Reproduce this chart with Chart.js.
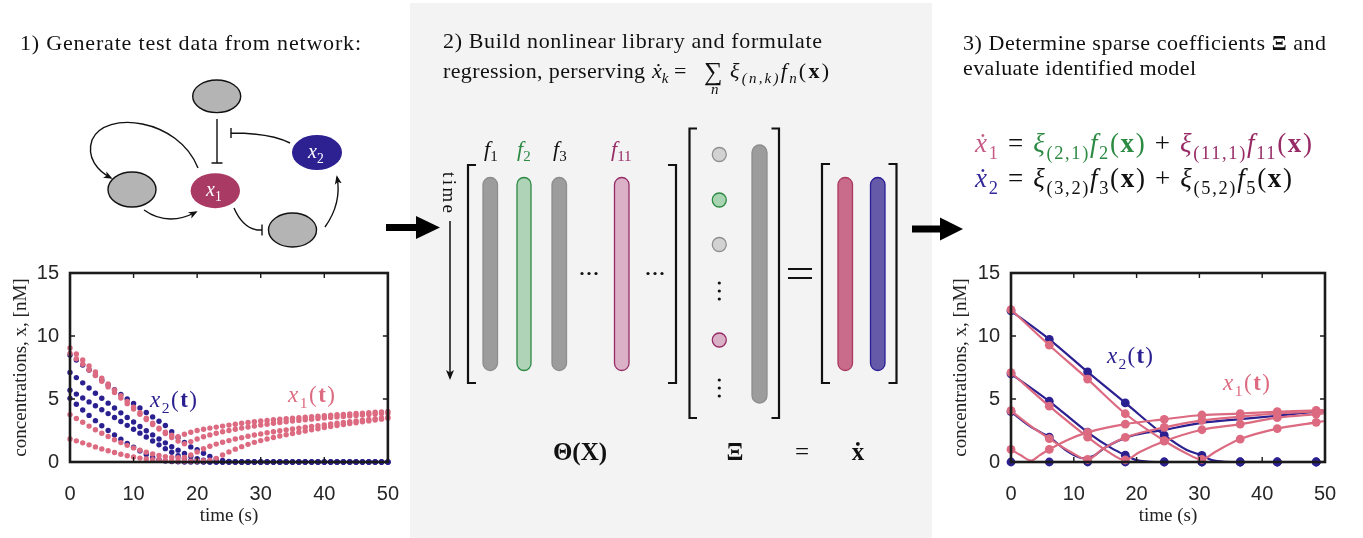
<!DOCTYPE html>
<html>
<head>
<meta charset="utf-8">
<script src="https://cdn.jsdelivr.net/npm/chart.js@4.4.0/dist/chart.umd.min.js"></script>
<style>
  body { margin: 0; width: 1363px; height: 538px; overflow: hidden; position: relative; background: #fff; }
  #panel { position: absolute; left: 410px; top: 3px; width: 522px; height: 535px; background: #f3f3f3; }
  .box { position: absolute; }
  #art { position: absolute; left: 0; top: 0; font-family: "Liberation Serif", "Times New Roman", serif; }
</style>
</head>
<body>
<div id="panel"></div>
<div class="box" style="left:0;top:250px;width:419px;height:288px"><canvas id="testData"></canvas></div>
<div class="box" style="left:940px;top:250px;width:423px;height:288px"><canvas id="modelData"></canvas></div>

<svg id="art" width="1363" height="538">
  <defs>
    <marker id="ah" viewBox="0 0 10 10" refX="8" refY="5" markerWidth="9" markerHeight="9" markerUnits="userSpaceOnUse" orient="auto">
      <path d="M0,1 L10,5 L0,9 L2.5,5 z" fill="#111"/>
    </marker>
    <marker id="ahTime" viewBox="0 0 10 10" refX="8" refY="5" markerWidth="10" markerHeight="10" markerUnits="userSpaceOnUse" orient="auto">
      <path d="M0,1 L10,5 L0,9 L2.5,5 z" fill="#111"/>
    </marker>
  </defs>

  <!-- network sketch -->
  <g stroke="#111" stroke-width="1.4" fill="none">
    <path d="M198,168 C178,118 105,110 92,140 C86,158 98,171 111,178" marker-end="url(#ah)"/>
    <path d="M144,210 Q168,227 196,212" marker-end="url(#ah)"/>
    <path d="M217,119 V163 M211.5,163 H222.5"/>
    <path d="M290,143 Q270,133 231,133 M231,128 V138"/>
    <path d="M234,208 Q244,231 262,230 M262,224.5 V235.5"/>
    <path d="M325,227 Q342,203 337,177" marker-end="url(#ah)"/>
  </g>
  <g stroke="#111" stroke-width="1.4" fill="#b4b4b4">
    <ellipse cx="216.7" cy="96.3" rx="24" ry="16.3"/>
    <ellipse cx="132" cy="189.5" rx="24" ry="17.5"/>
    <ellipse cx="292.5" cy="230" rx="24" ry="17"/>
  </g>
  <ellipse cx="215.3" cy="190.7" rx="24.7" ry="17.5" fill="#a93a63"/>
  <ellipse cx="317" cy="152.5" rx="25" ry="17.5" fill="#2d2192"/>

  <!-- arrows between panels -->
  <polygon points="386,224 416,224 416,216 440,227.5 416,239 416,231 386,231" fill="#000"/>
  <polygon points="912,225.5 940,225.5 940,217.5 963,229 940,240.5 940,232.5 912,232.5" fill="#000"/>

  <!-- library matrix -->
  <g stroke="#111" stroke-width="2.2" fill="none">
    <path d="M476,165 H468 V383 H476"/>
    <path d="M668,165 H676 V383 H668"/>
    <path d="M697,128.5 H689.5 V418 H697"/>
    <path d="M771.5,128.5 H779 V418 H771.5"/>
    <path d="M830,164 H822 V383 H830"/>
    <path d="M888.5,164 H896.5 V383 H888.5"/>
  </g>
  <g stroke-width="1.3">
    <rect x="483" y="177.5" width="14.5" height="193" rx="7.2" fill="#9c9c9c" stroke="#8d8d8d"/>
    <rect x="517" y="177.5" width="14" height="193" rx="7" fill="#aed3b6" stroke="#2c8a43"/>
    <rect x="552" y="177.5" width="14.5" height="193" rx="7.2" fill="#9c9c9c" stroke="#8d8d8d"/>
    <rect x="614.5" y="177.5" width="14.5" height="193" rx="7.2" fill="#dbb1c7" stroke="#962b66"/>
    <rect x="752" y="145" width="15" height="258" rx="7.5" fill="#9c9c9c" stroke="#8d8d8d"/>
    <rect x="838" y="177.5" width="14.5" height="193" rx="7.2" fill="#c96c8c" stroke="#ab3861"/>
    <rect x="870.5" y="177.5" width="14.5" height="193" rx="7.2" fill="#655aa8" stroke="#2a1e98"/>
  </g>
  <g stroke-width="1.3">
    <circle cx="719.3" cy="154.5" r="7" fill="#d2d2d2" stroke="#8f8f8f"/>
    <circle cx="719.3" cy="200" r="7" fill="#a9d4b1" stroke="#2c8a43"/>
    <circle cx="719.3" cy="244.5" r="7" fill="#d2d2d2" stroke="#8f8f8f"/>
    <circle cx="719.3" cy="340" r="7" fill="#dab0c6" stroke="#962b66"/>
  </g>
  <g fill="#111">
    <circle cx="582" cy="273.5" r="1.6"/><circle cx="589" cy="273.5" r="1.6"/><circle cx="596" cy="273.5" r="1.6"/>
    <circle cx="648" cy="273.5" r="1.6"/><circle cx="655" cy="273.5" r="1.6"/><circle cx="662" cy="273.5" r="1.6"/>
    <circle cx="719.3" cy="283" r="1.6"/><circle cx="719.3" cy="291" r="1.6"/><circle cx="719.3" cy="299" r="1.6"/>
    <circle cx="719.3" cy="380" r="1.6"/><circle cx="719.3" cy="388" r="1.6"/><circle cx="719.3" cy="396" r="1.6"/>
  </g>
  <path d="M788,269 H812 M788,278 H812" stroke="#111" stroke-width="2"/>
  <path d="M450,221 V378" stroke="#111" stroke-width="1.5" marker-end="url(#ahTime)"/>
</svg>

<script>
// ---- test data sampled every second (left plot) ----
const sampleT = [0, 1, 2, 3, 4, 5, 6, 7, 8, 9, 10, 11, 12, 13, 14, 15, 16, 17, 18, 19, 20,
  21, 22, 23, 24, 25, 26, 27, 28, 29, 30, 31, 32, 33, 34, 35, 36, 37, 38, 39, 40,
  41, 42, 43, 44, 45, 46, 47, 48, 49, 50];

const x1RunA = [9.05, 8.58, 8.1, 7.62, 7.14, 6.66, 6.19, 5.72, 5.26, 4.8, 4.35, 3.91, 3.48, 3.07, 2.69, 2.36, 2.12, 2.0, 2.2, 2.36, 2.5,
  2.6, 2.69, 2.77, 2.85, 2.93, 3.0, 3.07, 3.13, 3.19, 3.25, 3.3, 3.35, 3.4, 3.44, 3.48, 3.52, 3.56, 3.6, 3.64, 3.68,
  3.71, 3.75, 3.78, 3.81, 3.85, 3.88, 3.91, 3.95, 3.98, 4.02];
const x1RunB = [8.62, 8.2, 7.76, 7.31, 6.86, 6.41, 5.96, 5.51, 5.07, 4.63, 4.2, 3.78, 3.37, 2.98, 2.61, 2.26, 1.94, 1.66, 1.45, 1.62, 1.82,
  2.0, 2.15, 2.28, 2.4, 2.5, 2.6, 2.69, 2.77, 2.85, 2.93, 3.0, 3.07, 3.13, 3.19, 3.25, 3.3, 3.35, 3.4, 3.45, 3.5,
  3.54, 3.58, 3.62, 3.66, 3.7, 3.73, 3.77, 3.8, 3.84, 3.87];
const x1RunC = [3.76, 3.45, 3.15, 2.85, 2.56, 2.28, 2.02, 1.77, 1.54, 1.32, 1.12, 0.94, 0.78, 0.64, 0.52, 0.43, 0.37, 0.34, 0.36, 0.55, 0.8,
  1.05, 1.25, 1.42, 1.57, 1.7, 1.82, 1.93, 2.04, 2.14, 2.23, 2.32, 2.4, 2.48, 2.55, 2.62, 2.69, 2.76, 2.83, 2.89, 2.95,
  3.01, 3.07, 3.13, 3.19, 3.25, 3.31, 3.37, 3.43, 3.49, 3.55];
const x1RunD = [1.83, 1.68, 1.52, 1.36, 1.2, 1.04, 0.89, 0.75, 0.62, 0.5, 0.4, 0.31, 0.24, 0.18, 0.14, 0.11, 0.09, 0.08, 0.07, 0.07, 0.08,
  0.1, 0.15, 0.29, 0.55, 0.8, 1.02, 1.22, 1.4, 1.56, 1.7, 1.83, 1.95, 2.06, 2.16, 2.26, 2.36, 2.46, 2.55, 2.64, 2.73,
  2.81, 2.89, 2.97, 3.05, 3.12, 3.19, 3.26, 3.33, 3.4, 3.47];

const x2RunA = [8.5, 8.1, 7.7, 7.3, 6.9, 6.5, 6.12, 5.74, 5.37, 5.0, 4.64, 4.28, 3.93, 3.58, 3.24, 2.9, 2.4, 1.95, 1.55, 1.2, 0.98,
  0.7, 0.45, 0.25, 0.12, 0.05, 0.02, 0, 0, 0, 0, 0, 0, 0, 0, 0, 0, 0, 0, 0, 0,
  0, 0, 0, 0, 0, 0, 0, 0, 0, 0];
const x2RunB = [7.1, 6.7, 6.28, 5.87, 5.46, 5.06, 4.67, 4.28, 3.9, 3.53, 3.17, 2.82, 2.48, 2.15, 1.83, 1.52, 1.22, 0.94, 0.68, 0.45, 0.27,
  0.14, 0.06, 0.02, 0, 0, 0, 0, 0, 0, 0, 0, 0, 0, 0, 0, 0, 0, 0, 0, 0,
  0, 0, 0, 0, 0, 0, 0, 0, 0, 0];
const x2RunC = [5.7, 5.39, 5.08, 4.77, 4.46, 4.15, 3.84, 3.53, 3.22, 2.91, 2.6, 2.29, 1.98, 1.67, 1.36, 1.06, 0.77, 0.5, 0.28, 0.13, 0.05,
  0.02, 0, 0, 0, 0, 0, 0, 0, 0, 0, 0, 0, 0, 0, 0, 0, 0, 0, 0, 0,
  0, 0, 0, 0, 0, 0, 0, 0, 0, 0];
const x2RunD = [5.05, 4.58, 4.13, 3.7, 3.28, 2.88, 2.5, 2.14, 1.8, 1.48, 1.17, 0.88, 0.6, 0.36, 0.18, 0.08, 0.03, 0.01, 0, 0, 0,
  0, 0, 0, 0, 0, 0, 0, 0, 0, 0, 0, 0, 0, 0, 0, 0, 0, 0, 0, 0,
  0, 0, 0, 0, 0, 0, 0, 0, 0, 0];

// ---- identified model (right plot): curves as [t, value], markers every ~6 s ----
const x1CurveA = [[0, 12.1], [6.1, 9.27], [12.2, 6.58], [18.2, 3.83], [24.4, 1.69], [27.5, 0.8], [30.4, 0.2], [32.5, 0.8], [36.5, 1.82], [42.4, 2.65], [48.6, 3.15], [49.8, 3.25]];
const x1CurveB = [[0, 7.1], [6.1, 4.43], [12.2, 1.97], [15.5, 0.8], [18.2, 0.16], [20.5, 0.8], [24.4, 1.65], [30.4, 2.56], [36.5, 3.0], [42.4, 3.52], [48.6, 3.8], [49.8, 3.85]];
const x1CurveC = [[0, 4.07], [3, 2.9], [6.1, 1.85], [9.5, 0.8], [12.2, 0.2], [14.5, 1.0], [18.2, 1.95], [24.4, 2.75], [30.4, 3.3], [36.5, 3.6], [42.4, 3.85], [48.6, 4.0], [49.8, 4.02]];
const x1CurveD = [[0, 1.0], [1.5, 0.55], [3.2, 0.12], [4.6, 0.55], [6.1, 1.0], [9, 1.75], [12.2, 2.35], [18.2, 3.0], [24.4, 3.39], [30.4, 3.73], [36.5, 3.84], [42.4, 4.0], [48.6, 4.1], [49.8, 4.12]];
const x2CurveA = [[0, 12.0], [6.1, 9.74], [12.2, 7.15], [18.2, 4.69], [24.4, 2.13], [28, 0.95], [30.4, 0.52], [32, 0.15], [34, 0.02], [36.5, 0], [49.8, 0]];
const x2CurveB = [[0, 7.0], [6.1, 4.82], [12.2, 2.36], [16, 1.1], [18.2, 0.54], [20, 0.15], [22, 0.02], [24.4, 0], [49.8, 0]];
const x2CurveC = [[0, 4.0], [3, 2.85], [6.1, 1.97], [9, 0.85], [11.5, 0.3], [13, 0.45], [15, 1.15], [19, 2.05], [24.4, 2.55], [30.4, 3.1], [36.5, 3.4], [42.4, 3.67], [48.6, 3.99], [49.8, 4.02]];
const x2CurveD = [[0, 0], [49.8, 0]];

const markT = [0, 6.1, 12.2, 18.2, 24.4, 30.4, 36.5, 42.4, 48.6];
const x1MarkA = [12.1, 9.27, 6.58, 3.83, 1.69, 0.2, 1.82, 2.65, 3.15];
const x1MarkB = [7.1, 4.43, 1.97, 0.16, 1.65, 2.56, 3.0, 3.52, 3.8];
const x1MarkC = [4.07, 1.85, 0.2, 1.95, 2.75, 3.3, 3.6, 3.85, 4.0];
const x1MarkD = [1.0, 1.0, 2.35, 3.0, 3.39, 3.73, 3.84, 4.0, 4.1];
const x2MarkA = [12.0, 9.74, 7.15, 4.69, 2.13, 0.52, 0, 0, 0];
const x2MarkB = [7.0, 4.82, 2.36, 0.54, 0, 0, 0, 0, 0];
const x2MarkC = [4.0, 1.97, null, null, null, null, null, null, null];
const x2MarkD = [0, 0, 0, 0, 0, 0, 0, 0, 0];

const xTicks = [0, 10, 20, 30, 40, 50];
const yTicks = [0, 5, 10, 15];

const pink = '#dc6a80';
const navy = '#2b2090';
const tickFont = { family: '"Liberation Sans", Arial, sans-serif', size: 20 };
const serif = '"Liberation Serif", "Times New Roman", serif';

// MATLAB-like box with inward ticks on all four sides
const boxAxes = {
  id: 'boxAxes',
  afterDatasetsDraw(chart) {
    const { ctx, chartArea: a, scales: { x, y } } = chart;
    ctx.save();
    ctx.strokeStyle = '#1b1b1b';
    ctx.lineWidth = 1.4;
    ctx.beginPath();
    xTicks.forEach(v => {
      const px = x.getPixelForValue(v);
      ctx.moveTo(px, a.bottom); ctx.lineTo(px, a.bottom - 5);
      ctx.moveTo(px, a.top); ctx.lineTo(px, a.top + 5);
    });
    yTicks.forEach(v => {
      const py = y.getPixelForValue(v);
      ctx.moveTo(a.left, py); ctx.lineTo(a.left + 5, py);
      ctx.moveTo(a.right, py); ctx.lineTo(a.right - 5, py);
    });
    ctx.stroke();
    ctx.lineWidth = 2.6;
    ctx.strokeRect(a.left, a.top, a.right - a.left, a.bottom - a.top);
    ctx.restore();
  }
};

function axes(yWidth) {
  return {
    x: {
      type: 'linear', min: 0, max: 50,
      grid: { display: false, drawTicks: false }, border: { display: false },
      afterBuildTicks: s => { s.ticks = xTicks.map(v => ({ value: v })); },
      ticks: { font: tickFont, color: '#262626', padding: 20, maxRotation: 0 },
      title: { display: true, text: 'time (s)', font: { family: serif, size: 19 }, color: '#222', padding: { top: 0, bottom: 11 } },
      afterFit: s => { s.height = 76; }
    },
    y: {
      type: 'linear', min: 0, max: 15,
      grid: { display: false, drawTicks: false }, border: { display: false },
      afterBuildTicks: s => { s.ticks = yTicks.map(v => ({ value: v })); },
      ticks: { font: tickFont, color: '#262626', padding: 11 },
      title: { display: true, text: 'concentrations, x, [nM]', font: { family: serif, size: 19 }, color: '#222', padding: { top: 10, bottom: 4 } },
      afterFit: s => { s.width = yWidth; }
    }
  };
}

const baseOptions = (yWidth, padRight) => ({
  responsive: true,
  maintainAspectRatio: false,
  animation: false,
  layout: { padding: { top: 18, right: padRight, left: 0, bottom: 0 } },
  plugins: { legend: { display: false }, tooltip: { enabled: false } },
  scales: axes(yWidth)
});

// left plot: sampled test data
const runDots = (run, color) => ({
  data: run.map((v, i) => ({ x: sampleT[i], y: v })),
  backgroundColor: color, borderWidth: 0, pointRadius: 2.7, clip: 6
});

new Chart(document.getElementById('testData'), {
  type: 'scatter',
  data: {
    datasets: [
      runDots(x1RunA, pink), runDots(x1RunB, pink), runDots(x1RunC, pink), runDots(x1RunD, pink),
      runDots(x2RunA, navy), runDots(x2RunB, navy), runDots(x2RunC, navy), runDots(x2RunD, navy)
    ]
  },
  options: baseOptions(70, 12),
  plugins: [boxAxes]
});

// right plot: identified model curves with markers
const curve = (pts, color) => ({
  data: pts.map(p => ({ x: p[0], y: p[1] })),
  showLine: true, borderColor: color, borderWidth: 2.2, pointRadius: 0,
  cubicInterpolationMode: 'monotone', clip: 6
});
const marks = (vals, color) => ({
  data: vals.map((v, i) => ({ x: markT[i], y: v })),
  backgroundColor: color, borderWidth: 0, pointRadius: 4.4, clip: 6
});

new Chart(document.getElementById('modelData'), {
  type: 'scatter',
  data: {
    datasets: [
      curve(x1CurveA, pink), curve(x1CurveB, pink), curve(x1CurveC, pink), curve(x1CurveD, pink),
      marks(x1MarkA, pink), marks(x1MarkB, pink), marks(x1MarkC, pink), marks(x1MarkD, pink),
      curve(x2CurveA, navy), curve(x2CurveB, navy), curve(x2CurveC, navy), curve(x2CurveD, navy),
      marks(x2MarkA, navy), marks(x2MarkB, navy), marks(x2MarkC, navy), marks(x2MarkD, navy)
    ]
  },
  options: baseOptions(71, 38),
  plugins: [boxAxes]
});

// ---- text of the figure ----
const NS = 'http://www.w3.org/2000/svg';
const art = document.getElementById('art');
function mk(tag, attrs, parent) {
  const e = document.createElementNS(NS, tag);
  for (const k in attrs) e.setAttribute(k, attrs[k]);
  (parent || art).appendChild(e);
  return e;
}
// parts: [text, {c: colour, i: italic, b: bold, sub: subscript}]
function mathText(x, y, size, parts, extra) {
  const t = mk('text', Object.assign({ x: x, y: y, 'font-size': size, fill: '#111' }, extra || {}));
  let shift = 0;
  parts.forEach(([s, o = {}]) => {
    const ts = mk('tspan', {}, t);
    ts.textContent = s;
    if (o.c) ts.setAttribute('fill', o.c);
    if (o.i) ts.setAttribute('font-style', 'italic');
    if (o.b) ts.setAttribute('font-weight', 'bold');
    if (o.sub) ts.setAttribute('font-size', (size * 0.68).toFixed(1));
    const want = o.sub ? size * 0.24 : 0;
    if (want !== shift) { ts.setAttribute('dy', (want - shift).toFixed(1)); shift = want; }
    if (o.dx) ts.setAttribute('dx', o.dx);
  });
  return t;
}

const green = '#2c8a43', plum = '#962b66', rose = '#c55a86', blue = '#33299a';

// titles
mathText(20, 50, 22, [['1) Generate test data from network:']], { textLength: 341 });
mathText(443, 48, 22, [['2) Build nonlinear library and formulate']], { textLength: 379 });
mathText(443, 78, 22, [['regression, perserving']], { textLength: 202 });
mathText(652, 78, 22, [['ẋ', { i: 1 }], ['k', { i: 1, sub: 1 }], [' = ']]);
mathText(704, 80, 26, [['∑']]);
mathText(711, 94, 15, [['n', { i: 1 }]]);
mathText(730, 78, 22, [['ξ', { i: 1 }], ['(n,k)', { i: 1, sub: 1 }], ['f', { i: 1 }], ['n', { i: 1, sub: 1 }], ['('], ['x', { b: 1 }], [')']], { textLength: 99 });
mathText(963, 50, 22, [['3) Determine sparse coefficients '], ['Ξ', { b: 1 }], [' and']], { textLength: 363 });
mathText(963, 75, 22, [['evaluate identified model']], { textLength: 233 });

// identified equations
mathText(975, 152, 27, [
  ['ẋ', { i: 1, c: rose }], ['1', { sub: 1, c: rose }], [' = '],
  ['ξ', { i: 1, c: green }], ['(2,1)', { sub: 1, c: green }], ['f', { i: 1, c: green }], ['2', { sub: 1, c: green }], ['(', { c: green }], ['x', { b: 1, c: green }], [')', { c: green }],
  [' + '],
  ['ξ', { i: 1, c: plum }], ['(11,1)', { sub: 1, c: plum }], ['f', { i: 1, c: plum }], ['11', { sub: 1, c: plum }], ['(', { c: plum }], ['x', { b: 1, c: plum }], [')', { c: plum }]
], { textLength: 337 });
mathText(975, 187, 27, [
  ['ẋ', { i: 1, c: blue }], ['2', { sub: 1, c: blue }], [' = '],
  ['ξ', { i: 1 }], ['(3,2)', { sub: 1 }], ['f', { i: 1 }], ['3', { sub: 1 }], ['('], ['x', { b: 1 }], [')'],
  [' + '],
  ['ξ', { i: 1 }], ['(5,2)', { sub: 1 }], ['f', { i: 1 }], ['5', { sub: 1 }], ['('], ['x', { b: 1 }], [')']
], { textLength: 317 });

// node labels
mathText(206, 196, 20, [['x', { i: 1 }], ['1', { sub: 1 }]], { fill: '#fff' });
mathText(308, 158, 20, [['x', { i: 1 }], ['2', { sub: 1 }]], { fill: '#fff' });

// library column labels
mathText(484, 156, 22, [['f', { i: 1 }], ['1', { sub: 1 }]]);
mathText(517, 156, 22, [['f', { i: 1, c: green }], ['2', { sub: 1, c: green }]]);
mathText(553, 156, 22, [['f', { i: 1 }], ['3', { sub: 1 }]]);
mathText(611, 156, 22, [['f', { i: 1, c: plum }], ['11', { sub: 1, c: plum }]]);
mathText(0, 0, 19, [['time']], { transform: 'translate(443,172) rotate(90)', textLength: 41 });

// bottom labels
mathText(580, 460, 25, [['Θ(X)', { b: 1 }]], { 'text-anchor': 'middle' });
mathText(735, 460, 25, [['Ξ', { b: 1 }]], { 'text-anchor': 'middle' });
mathText(802, 460, 25, [['=']], { 'text-anchor': 'middle' });
mathText(858, 460, 25, [['ẋ', { b: 1 }]], { 'text-anchor': 'middle' });

// curve labels inside plots
mathText(150, 407, 23, [['x', { i: 1, c: navy }], ['2', { sub: 1, c: navy }], ['(', { c: navy }], ['t', { b: 1, c: navy }], [')', { c: navy }]], { textLength: 47 });
mathText(288, 402, 23, [['x', { i: 1, c: pink }], ['1', { sub: 1, c: pink }], ['(', { c: pink }], ['t', { b: 1, c: pink }], [')', { c: pink }]], { textLength: 47 });
mathText(1107, 363, 23, [['x', { i: 1, c: navy }], ['2', { sub: 1, c: navy }], ['(', { c: navy }], ['t', { b: 1, c: navy }], [')', { c: navy }]], { textLength: 46 });
mathText(1223, 390, 23, [['x', { i: 1, c: pink }], ['1', { sub: 1, c: pink }], ['(', { c: pink }], ['t', { b: 1, c: pink }], [')', { c: pink }]], { textLength: 47 });
</script>
</body>
</html>
